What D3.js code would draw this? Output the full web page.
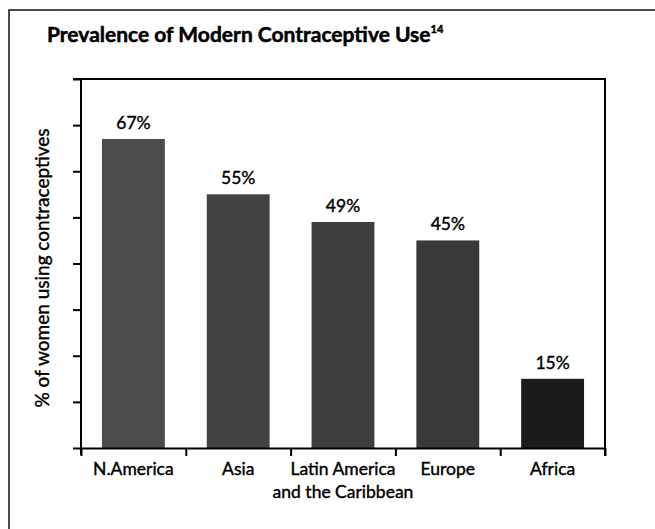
<!DOCTYPE html>
<html>
<head>
<meta charset="utf-8">
<script src="https://cdn.jsdelivr.net/npm/d3@7"></script>
<style>
  html, body { margin: 0; padding: 0; background: #fff; }
  svg { display: block; font-family: Lato, "Open Sans", sans-serif; }
</style>
</head>
<body>
<svg id="chart" width="655" height="529"></svg>
<script>
// ---- data ----
const regions = ["N.America", "Asia", "Latin America|and the Caribbean", "Europe", "Africa"];
const prevalence = [67, 55, 49, 45, 15];
const valueLabels = ["67%", "55%", "49%", "45%", "15%"];
const yTicks = [0, 10, 20, 30, 40, 50, 60, 70, 80];
const titleText = "Prevalence of Modern Contraceptive Use";
const titleNote = "14";
const yAxisLabel = "% of women using contraceptives";

// ---- styles ----
const barColors = ["#4c4c4c", "#434343", "#3e3e3e", "#393939", "#1b1b1b"];

const svg = d3.select("#chart");
const W = 655, H = 529;
const m = { left: 81, right: 605, top: 79, bottom: 448 };

// outer frame
svg.append("rect")
  .attr("x", 9).attr("y", 10)
  .attr("width", W + 20).attr("height", H + 20)
  .attr("fill", "none").attr("stroke", "#111").attr("stroke-width", 1.5);

// title
const title = svg.append("text")
  .attr("x", 47).attr("y", 42)
  .attr("font-weight", 700).attr("font-size", 21).attr("fill", "#000")
  .attr("stroke", "#000").attr("stroke-width", 0.5);
title.append("tspan").text(titleText);
title.append("tspan").attr("font-size", 11).attr("dy", -9).text(titleNote);

const x = d3.scaleBand().domain(regions).range([m.left, m.right]).paddingInner(0.4).paddingOuter(0.2);
const y = d3.scaleLinear().domain([0, 80]).range([m.bottom, m.top]);

// bars
svg.append("g").selectAll("rect")
  .data(regions)
  .join("rect")
  .attr("x", d => x(d))
  .attr("width", x.bandwidth())
  .attr("y", (d, i) => y(prevalence[i]))
  .attr("height", (d, i) => y(0) - y(prevalence[i]))
  .attr("fill", (d, i) => barColors[i]);

// value labels
svg.append("g").selectAll("text")
  .data(regions)
  .join("text")
  .attr("x", d => x(d) + x.bandwidth() / 2)
  .attr("y", (d, i) => y(prevalence[i]) - 10)
  .attr("text-anchor", "middle")
  .attr("font-size", 17.5)
  .attr("fill", "#000").attr("stroke", "#000").attr("stroke-width", 0.4)
  .text((d, i) => valueLabels[i]);

// y axis (ticks without labels)
const yAxis = d3.axisLeft(y).tickValues(yTicks).tickSize(8).tickFormat("");
const gy = svg.append("g").attr("transform", `translate(${m.left},0)`).call(yAxis);
gy.select(".domain").attr("stroke-width", 2).attr("d", `M0,${m.bottom + 7}V${m.top}`);
gy.selectAll(".tick line").attr("stroke-width", 2);

// x axis: ticks at band boundaries
const bounds = regions.map(d => x(d) - x.step() * x.paddingInner() / 2);
bounds.push(m.right);
const xb = d3.scaleLinear().domain([m.left, m.right]).range([m.left, m.right]);
const xAxis = d3.axisBottom(xb).tickValues(bounds).tickSize(8).tickFormat("").tickSizeOuter(0);
const gx = svg.append("g").attr("transform", `translate(0,${m.bottom})`).call(xAxis);
gx.select(".domain").attr("stroke-width", 2);
gx.selectAll(".tick line").attr("stroke-width", 2);

// top and right frame lines
svg.append("line").attr("x1", m.left - 8).attr("x2", m.right + 1)
  .attr("y1", m.top).attr("y2", m.top).attr("stroke", "#000").attr("stroke-width", 2);
svg.append("line").attr("x1", m.right).attr("x2", m.right)
  .attr("y1", m.top).attr("y2", m.bottom + 8).attr("stroke", "#000").attr("stroke-width", 2);

// category labels
svg.append("g").selectAll("text")
  .data(regions)
  .join("text")
  .attr("x", d => x(d) + x.bandwidth() / 2)
  .attr("y", 475)
  .attr("text-anchor", "middle")
  .attr("font-size", 17.5)
  .attr("fill", "#000").attr("stroke", "#000").attr("stroke-width", 0.4)
  .each(function(d) {
    const parts = d.split("|");
    d3.select(this).selectAll("tspan").data(parts).join("tspan")
      .attr("x", x(d) + x.bandwidth() / 2)
      .attr("dy", (p, j) => j === 0 ? 0 : 23)
      .text(p => p);
  });

// y axis label
svg.append("text")
  .attr("transform", `translate(49,268) rotate(-90)`)
  .attr("text-anchor", "middle")
  .attr("font-size", 19)
  .attr("fill", "#000").attr("stroke", "#000").attr("stroke-width", 0.4)
  .text(yAxisLabel);
</script>
</body>
</html>
